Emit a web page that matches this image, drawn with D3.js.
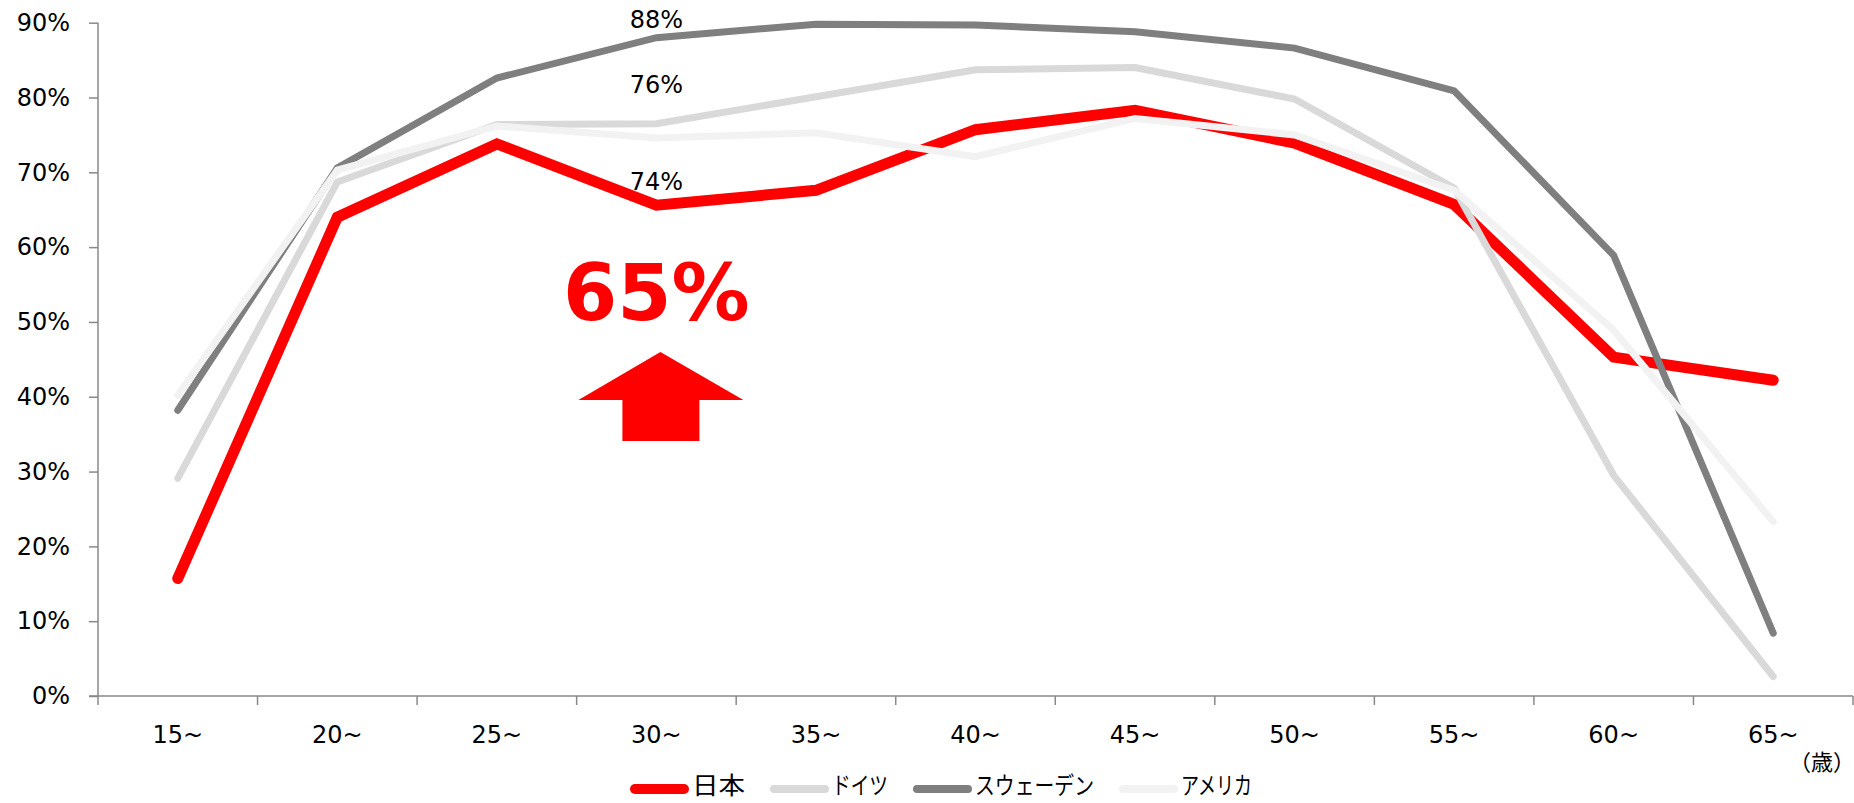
<!DOCTYPE html>
<html>
<head>
<meta charset="utf-8">
<script src="https://cdn.jsdelivr.net/npm/d3@7"></script>
<style>
  body { margin: 0; background: #fff; }
  text { font-family: "DejaVu Sans", Verdana, sans-serif; }
</style>
</head>
<body>
<div id="chart"></div>
<script>

let w = 1854;
let h = 803;

// age groups and participation rates (%)
let ages = ["15~", "20~", "25~", "30~", "35~", "40~", "45~", "50~", "55~", "60~", "65~"];
let japan   = [15.7, 64.0, 73.8, 65.6, 67.6, 75.7, 78.3, 73.9, 65.7, 45.3, 42.2];
let germany = [29.1, 68.7, 76.4, 76.5, 80.1, 83.7, 84.0, 79.8, 67.9, 29.5, 2.6];
let sweden  = [38.2, 70.6, 82.6, 88.0, 89.8, 89.7, 88.8, 86.6, 80.9, 58.9, 8.4];
let usa     = [40.2, 70.3, 76.2, 74.6, 75.3, 72.1, 77.2, 75.0, 67.6, 48.9, 23.3];

let seriesNames = ["日本", "ドイツ", "スウェーデン", "アメリカ"];
let seriesColors = ["#ff0000", "#d9d9d9", "#7f7f7f", "#f2f2f2"];
let yTicks = [0, 10, 20, 30, 40, 50, 60, 70, 80, 90];

// labels written over the 30~ column
let noteLabels = ["88%", "76%", "74%"];
let noteHeights = [90.4, 81.7, 68.7];
let bigLabel = "65%";

let allSeries = [japan, germany, sweden, usa];

let viz = d3.select("#chart").append("svg")
	.attr("width", w)
	.attr("height", h)
;

let plotLeft = 98, plotRight = 1853, plotTop = 22.7, plotBottom = 696;

let xScale = d3.scaleBand().domain(ages).range([plotLeft, plotRight]);
let yScale = d3.scaleLinear().domain([0, 90]).range([plotBottom, plotTop]);
let cx = function(a){ return xScale(a) + xScale.bandwidth() / 2; };

let axisColor = "#898989";

// y axis
let yAxis = d3.axisLeft(yScale).tickValues(yTicks).tickSize(9).tickFormat(function(d){ return d + "%"; });
let yg = viz.append("g").attr("transform", "translate(" + plotLeft + ",0)").call(yAxis);
yg.select(".domain").attr("stroke", axisColor).attr("stroke-width", 1.5).attr("d", "M0," + plotTop + "V" + plotBottom);
yg.selectAll(".tick line").attr("stroke", axisColor).attr("stroke-width", 1.5);
yg.selectAll(".tick text")
	.attr("x", -28)
	.attr("font-size", 24)
	.attr("fill", "#000")
	.attr("font-family", "DejaVu Sans")
;

// x axis with ticks between categories
let xAxis = d3.axisBottom(xScale).tickSize(0).tickSizeOuter(0);
let xg = viz.append("g").attr("transform", "translate(0," + plotBottom + ")").call(xAxis);
xg.select(".domain").attr("stroke", axisColor).attr("stroke-width", 1.5).attr("d", "M" + (plotLeft - 9) + ",0H" + plotRight);
xg.selectAll(".tick text")
	.attr("y", 39)
	.attr("dy", "0.35em")
	.attr("font-size", 24)
	.attr("fill", "#000")
	.attr("font-family", "DejaVu Sans")
;
let bounds = ages.map(function(a){ return xScale(a); }).concat([plotRight]);
xg.selectAll(".sep").data(bounds).enter().append("line")
	.attr("class", "sep")
	.attr("x1", function(d){ return d; })
	.attr("x2", function(d){ return d; })
	.attr("y1", 0)
	.attr("y2", 9)
	.attr("stroke", axisColor)
	.attr("stroke-width", 1.5)
;

viz.append("text")
	.attr("x", 1822)
	.attr("y", 760)
	.attr("text-anchor", "middle")
	.attr("dominant-baseline", "central")
	.attr("font-size", 22)
	.style("font-family", "'Noto Sans CJK JP', sans-serif")
	.text("（歳）")
;

// lines
let line = d3.line()
	.x(function(d, i){ return cx(ages[i]); })
	.y(function(d){ return yScale(d); })
;

let graphGroup = viz.append("g").attr("class", "graphGroup");
graphGroup.selectAll(".series").data(allSeries).enter().append("path")
	.attr("class", "series")
	.attr("d", line)
	.attr("fill", "none")
	.attr("stroke", function(d, i){ return seriesColors[i]; })
	.attr("stroke-width", function(d, i){ return i == 0 ? 11 : 7; })
	.attr("stroke-linecap", "round")
	.attr("stroke-linejoin", "miter")
;

// annotations at 30~
let noteX = cx("30~");
viz.selectAll(".note").data(noteLabels).enter().append("text")
	.attr("class", "note")
	.attr("x", noteX)
	.attr("y", function(d, i){ return yScale(noteHeights[i]); })
	.attr("text-anchor", "middle")
	.attr("dominant-baseline", "central")
	.attr("font-size", 24)
	.attr("fill", "#000")
	.text(function(d){ return d; })
;

viz.append("text")
	.attr("x", noteX)
	.attr("y", 320)
	.attr("text-anchor", "middle")
	.attr("font-size", 78)
	.attr("font-weight", "bold")
	.attr("fill", "#ff0000")
	.text(bigLabel)
;

// up arrow
let ax = noteX + 4;
let arrow = [
	[ax, 352], [ax + 83, 400], [ax + 39, 400], [ax + 39, 441],
	[ax - 38, 441], [ax - 38, 400], [ax - 82, 400]
];
viz.append("path")
	.attr("d", d3.line()(arrow) + "Z")
	.attr("fill", "#ff0000")
;

// legend (katakana in the original font is narrow, so squeeze to width)
let legendTextWidths = [53, 56, 119, 71];
let legend = viz.append("g").attr("class", "legend");
let lx = 630;
seriesNames.forEach(function(name, i){
	let sw = i == 0 ? 10 : 8;
	legend.append("line")
		.attr("x1", lx + sw / 2).attr("x2", lx + 59 - sw / 2)
		.attr("y1", 789).attr("y2", 789)
		.attr("stroke", seriesColors[i])
		.attr("stroke-width", sw)
		.attr("stroke-linecap", "round")
	;
	legend.append("text")
		.attr("x", lx + 62)
		.attr("y", 783)
		.attr("dominant-baseline", "central")
		.attr("font-size", 24)
		.attr("textLength", legendTextWidths[i])
		.attr("lengthAdjust", "spacingAndGlyphs")
		.style("font-family", "'Noto Sans CJK JP', sans-serif")
		.text(name)
	;
	lx += 62 + legendTextWidths[i] + 25;
});

</script>
</body>
</html>
